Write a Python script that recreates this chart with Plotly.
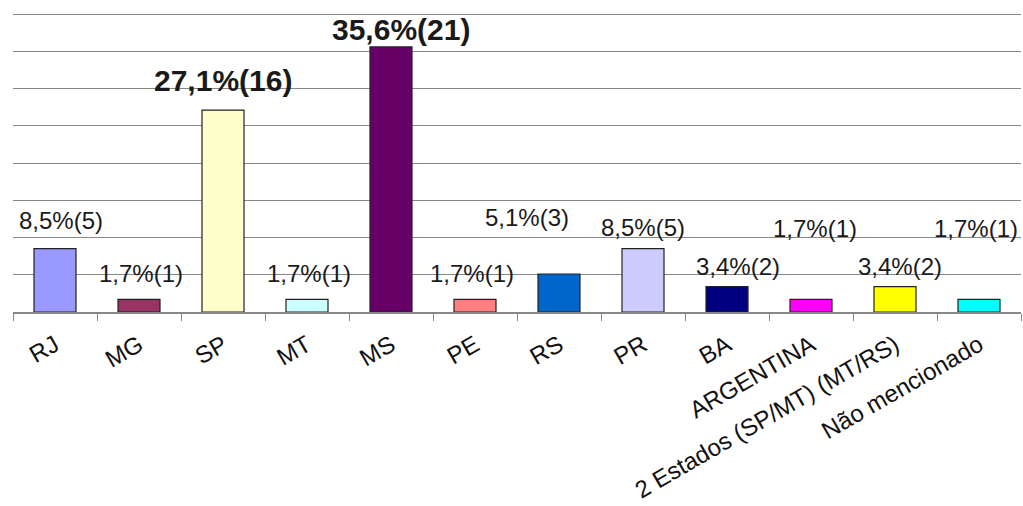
import plotly.graph_objects as go

categories = ["RJ", "MG", "SP", "MT", "MS", "PE", "RS", "PR", "BA", "ARGENTINA",
              "2 Estados (SP/MT) (MT/RS)", "Não mencionado"]
percent = [8.5, 1.7, 27.1, 1.7, 35.6, 1.7, 5.1, 8.5, 3.4, 1.7, 3.4, 1.7]
counts = [5, 1, 16, 1, 21, 1, 3, 5, 2, 1, 2, 1]
colors = ["#9999FF", "#993366", "#FFFFCC", "#CCFFFF", "#660066", "#FF8080",
          "#0066CC", "#CCCCFF", "#000080", "#FF00FF", "#FFFF00", "#00FFFF"]

# label placement offsets (px) relative to top of each bar
label_dx = [6, 2, 0, 2, 10, -3, -32, 0, 11, 4, 5, -3]
label_dy = [28, 26, 30, 26, 17, 26, 57, 21, 20, 71, 20, 71]
label_bold = [False, False, True, False, True, False, False, False, False, False, False, False]

fig = go.Figure(go.Bar(
    x=categories, y=percent, width=0.5,
    marker=dict(color=colors, line=dict(color="#222222", width=1.2)),
))

for c, p, n, dx, dy, b in zip(categories, percent, counts, label_dx, label_dy, label_bold):
    txt = f"{p:.1f}".replace(".", ",") + f"%({n})"
    fig.add_annotation(
        x=c, y=p, text=f"<b>{txt}</b>" if b else txt, showarrow=False,
        xshift=dx, yshift=dy, yanchor="middle", xanchor="center",
        font=dict(family="Liberation Sans, Arial", size=30 if b else 24, color="#1a1a1a"),
    )

fig.update_layout(
    width=1023, height=506,
    margin=dict(l=13, r=2, t=13, b=194),
    paper_bgcolor="white", plot_bgcolor="white",
    showlegend=False,
    bargap=0.5,
    font=dict(family="Liberation Sans, Arial", size=24, color="#111111"),
)
fig.update_yaxes(range=[0, 40.15], dtick=5, showgrid=True, gridcolor="#888888", gridwidth=1.3,
                 showticklabels=False, zeroline=False, showline=False, ticks="", automargin=False)
fig.update_xaxes(showline=True, linecolor="#888888", linewidth=1.5, ticks="outside",
                 tickson="boundaries", ticklen=7, tickcolor="#888888", tickwidth=1.3,
                 tickangle=-30, showgrid=False, ticklabelstandoff=8, automargin=False)

fig.write_html("out.html")
